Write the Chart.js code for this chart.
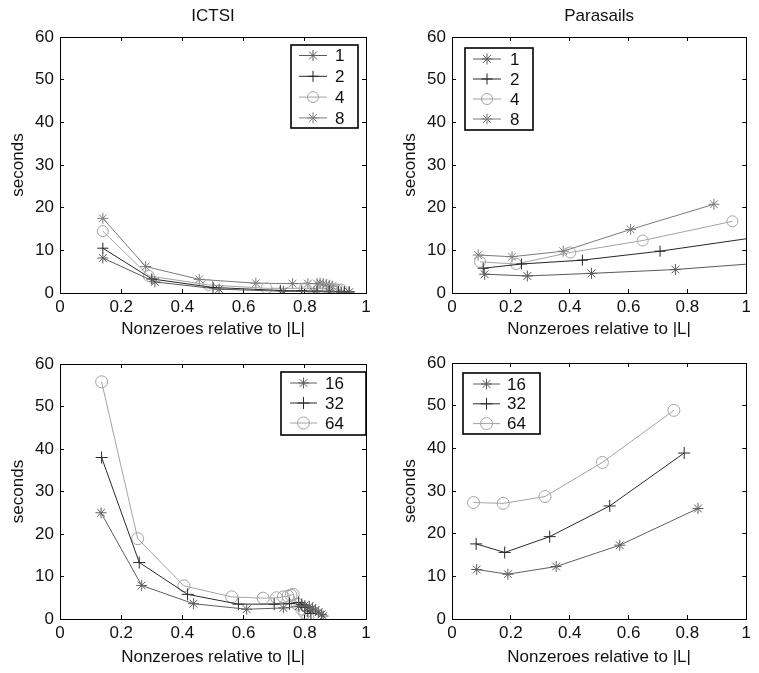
<!DOCTYPE html>
<html><head><meta charset="utf-8">
<script src="https://cdn.jsdelivr.net/npm/chart.js@4/dist/chart.umd.min.js"></script>
<style>
html,body{margin:0;padding:0;background:#fff}
body{width:759px;height:673px;overflow:hidden;position:relative}
.p{position:absolute}
</style></head><body>
<div class="p" style="left:0;top:0"><canvas id="c1" width="390" height="340"></canvas></div>
<div class="p" style="left:390px;top:0"><canvas id="c2" width="369" height="340"></canvas></div>
<div class="p" style="left:0;top:340px"><canvas id="c3" width="390" height="333"></canvas></div>
<div class="p" style="left:390px;top:340px"><canvas id="c4" width="369" height="333"></canvas></div>
<script>
// ---------------- data ----------------
const xTickValues = [0, 0.2, 0.4, 0.6, 0.8, 1];
const xTickLabels = ['0', '0.2', '0.4', '0.6', '0.8', '1'];
const yTickValues = [0, 10, 20, 30, 40, 50, 60];
const yTickLabels = ['0', '10', '20', '30', '40', '50', '60'];
const panelTitles = ['ICTSI', 'Parasails'];
const xAxisTitle = 'Nonzeroes relative to |L|';
const yAxisTitle = 'seconds';
const topSeriesNames = ['1', '2', '4', '8'];
const bottomSeriesNames = ['16', '32', '64'];

// ICTSI, 1/2/4/8
const ictsi1X = [0.14, 0.31, 0.52, 0.73, 0.83, 0.88, 0.92, 0.945];
const ictsi1Y = [8.2, 2.6, 0.9, 0.4, 0.3, 0.3, 0.2, 0.2];
const ictsi2X = [0.14, 0.30, 0.50, 0.72, 0.79, 0.84, 0.88, 0.91, 0.93, 0.945];
const ictsi2Y = [10.5, 3.3, 1.3, 0.6, 0.5, 0.45, 0.4, 0.35, 0.3, 0.3];
const ictsi4X = [0.14, 0.29, 0.485, 0.675, 0.80, 0.86, 0.875, 0.89, 0.90, 0.91, 0.92];
const ictsi4Y = [14.5, 4.0, 1.9, 1.1, 1.1, 1.0, 1.0, 0.9, 0.9, 0.8, 0.8];
const ictsi8X = [0.14, 0.28, 0.455, 0.64, 0.76, 0.81, 0.84, 0.85, 0.86, 0.87, 0.88, 0.89];
const ictsi8Y = [17.5, 6.2, 3.2, 2.3, 2.2, 2.2, 2.2, 2.3, 2.2, 2.0, 1.8, 1.6];

// Parasails, 1/2/4/8
const para1X = [0.111, 0.256, 0.474, 0.759, 1.2];
const para1Y = [4.4, 4.0, 4.6, 5.5, 7.8];
const para2X = [0.106, 0.236, 0.443, 0.707, 1.2];
const para2Y = [5.8, 6.8, 7.7, 9.8, 14.7];
const para4X = [0.095, 0.218, 0.402, 0.648, 0.953];
const para4Y = [7.3, 6.8, 9.5, 12.3, 16.8];
const para8X = [0.089, 0.204, 0.378, 0.607, 0.89];
const para8Y = [8.9, 8.5, 9.8, 14.9, 20.8];

// ICTSI, 16/32/64
const ictsi16X = [0.134, 0.267, 0.436, 0.61, 0.73, 0.78, 0.80, 0.815, 0.825, 0.835, 0.845, 0.855, 0.86];
const ictsi16Y = [25.0, 7.9, 3.6, 2.3, 2.6, 3.0, 3.2, 3.0, 2.6, 2.1, 1.6, 1.1, 0.7];
const ictsi32X = [0.136, 0.259, 0.417, 0.583, 0.70, 0.75, 0.78, 0.79, 0.80, 0.81, 0.82];
const ictsi32Y = [38.0, 13.3, 5.8, 3.5, 3.5, 3.6, 3.9, 3.4, 2.7, 1.9, 1.3];
const ictsi64X = [0.136, 0.254, 0.405, 0.561, 0.664, 0.708, 0.73, 0.745, 0.755, 0.762, 0.775, 0.79, 0.80, 0.81];
const ictsi64Y = [55.8, 18.9, 7.8, 5.2, 4.9, 5.0, 5.2, 5.4, 5.6, 5.8, 3.5, 2.3, 1.4, 0.3];

// Parasails, 16/32/64
const para16X = [0.084, 0.19, 0.354, 0.57, 0.836];
const para16Y = [11.6, 10.5, 12.3, 17.3, 25.9];
const para32X = [0.082, 0.179, 0.332, 0.536, 0.789];
const para32Y = [17.6, 15.6, 19.3, 26.5, 38.9];
const para64X = [0.073, 0.174, 0.316, 0.511, 0.754];
const para64Y = [27.3, 27.1, 28.7, 36.7, 48.9];

// ---------------- styling ----------------
const FONT = {family: "'Liberation Sans', Arial, Helvetica, sans-serif", size: 17};
const TXT = '#111';
const topStyles = [
  {color: '#5a5a5a', point: 'star', r: 5.5},
  {color: '#262626', point: 'cross', r: 5.5},
  {color: '#a3a3a3', point: 'circle', r: 5.5},
  {color: '#7a7a7a', point: 'star', r: 5.5}
];
const bottomStyles = [
  {color: '#5e5e5e', point: 'star', r: 5.5},
  {color: '#2a2a2a', point: 'cross', r: 6},
  {color: '#a3a3a3', point: 'circle', r: 6}
];

const boxLegend = {
  id: 'boxLegend',
  afterDatasetsDraw(chart, args, L) {
    if (!L || !L.w) return;
    const {ctx, chartArea} = chart;
    const bx = Math.round(chartArea.left + L.dx), by = Math.round(chartArea.top + L.dy);
    ctx.save();
    ctx.fillStyle = '#fff';
    ctx.fillRect(bx, by, L.w, L.h);
    ctx.strokeStyle = '#000';
    ctx.lineWidth = 1.6;
    ctx.strokeRect(bx, by, L.w, L.h);
    chart.data.datasets.forEach((ds, i) => {
      const y = by + L.first + i * L.step;
      ctx.strokeStyle = ds.borderColor;
      ctx.lineWidth = 1;
      ctx.beginPath();
      ctx.moveTo(bx + L.x0, y);
      ctx.lineTo(bx + L.x1, y);
      ctx.stroke();
      ctx.fillStyle = 'rgba(0,0,0,0)';
      Chart.helpers.drawPoint(ctx, {pointStyle: ds.pointStyle, radius: ds.pointRadius, borderWidth: 1, rotation: 0},
        bx + (L.x0 + L.x1) / 2, y);
      ctx.fillStyle = TXT;
      ctx.font = `${FONT.size}px ${FONT.family}`;
      ctx.textBaseline = 'middle';
      ctx.textAlign = 'left';
      ctx.fillText(ds.label, bx + L.tx, y + 1);
    });
    ctx.restore();
  }
};

function buildDatasets(names, xs, ys, styles) {
  return names.map((n, i) => ({
    label: n,
    data: xs[i].map((x, j) => ({x: x, y: ys[i][j]})),
    borderColor: styles[i].color,
    backgroundColor: 'rgba(0,0,0,0)',
    borderWidth: 1,
    pointStyle: styles[i].point,
    pointRadius: styles[i].r,
    pointBorderColor: styles[i].color,
    pointBackgroundColor: 'rgba(0,0,0,0)',
    pointBorderWidth: 1,
    tension: 0,
    fill: false
  }));
}

function setTicks(values) {
  return s => { s.ticks = values.map(v => ({value: v})); };
}

function makePanel(id, W, H, area, title, datasets, legend, yTitlePad, xTitlePad) {
  const grid = {drawOnChartArea: false, tickLength: -4, color: '#000', lineWidth: 1};
  const border = {color: '#000', width: 1};
  return new Chart(document.getElementById(id), {
    type: 'line',
    data: {datasets: datasets},
    options: {
      responsive: false, animation: false, devicePixelRatio: 1,
      layout: {padding: 0},
      events: [],
      plugins: {legend: {display: false}, tooltip: {enabled: false}, boxLegend: legend},
      scales: {
        x: {
          type: 'linear', position: 'bottom', min: 0, max: 1,
          afterBuildTicks: setTicks(xTickValues),
          ticks: {callback: (v, i) => xTickLabels[i], font: FONT, color: TXT, padding: 8, maxRotation: 0, autoSkip: false},
          grid: grid, border: border,
          title: {display: true, text: xAxisTitle, font: FONT, color: TXT, padding: {top: 0, bottom: xTitlePad}},
          afterFit: s => { s.height = H - area.bottom; }
        },
        x2: {
          type: 'linear', position: 'top', min: 0, max: 1,
          afterBuildTicks: setTicks(xTickValues),
          ticks: {display: false},
          grid: grid, border: border,
          title: {display: !!title, text: title || '', font: FONT, color: TXT, padding: {top: 6, bottom: 0}},
          afterFit: s => { s.height = area.top; }
        },
        y: {
          type: 'linear', position: 'left', min: 0, max: 60,
          afterBuildTicks: setTicks(yTickValues),
          ticks: {callback: (v, i) => yTickLabels[i], font: FONT, color: TXT, padding: 10, autoSkip: false},
          grid: grid, border: border,
          title: {display: true, text: yAxisTitle, font: FONT, color: TXT, padding: {top: yTitlePad, bottom: 0}},
          afterFit: s => { s.width = area.left; }
        },
        y2: {
          type: 'linear', position: 'right', min: 0, max: 60,
          afterBuildTicks: setTicks(yTickValues),
          ticks: {display: false},
          grid: grid, border: border,
          afterFit: s => { s.width = W - area.right; }
        }
      }
    },
    plugins: [boxLegend]
  });
}

makePanel('c1', 390, 340, {left: 60, right: 366, top: 37, bottom: 293}, panelTitles[0],
  buildDatasets(topSeriesNames, [ictsi1X, ictsi2X, ictsi4X, ictsi8X], [ictsi1Y, ictsi2Y, ictsi4Y, ictsi8Y], topStyles),
  {dx: 231, dy: 8, w: 67, h: 83, first: 10.5, step: 20.8, x0: 8, x1: 36, tx: 44}, 8, 0);

makePanel('c2', 369, 340, {left: 62, right: 367, top: 37, bottom: 293}, panelTitles[1],
  buildDatasets(topSeriesNames, [para1X, para2X, para4X, para8X], [para1Y, para2Y, para4Y, para8Y], topStyles),
  {dx: 13, dy: 11, w: 68, h: 82, first: 11, step: 20, x0: 8, x1: 36, tx: 45}, 10, 0);

makePanel('c3', 390, 333, {left: 60, right: 366, top: 24, bottom: 279}, null,
  buildDatasets(bottomSeriesNames, [ictsi16X, ictsi32X, ictsi64X], [ictsi16Y, ictsi32Y, ictsi64Y], bottomStyles),
  {dx: 221, dy: 8, w: 85, h: 63, first: 11, step: 20, x0: 9, x1: 36, tx: 44}, 8, 5);

makePanel('c4', 369, 333, {left: 62, right: 367, top: 23, bottom: 279}, null,
  buildDatasets(bottomSeriesNames, [para16X, para32X, para64X], [para16Y, para32Y, para64Y], bottomStyles),
  {dx: 11, dy: 10, w: 77, h: 61, first: 11, step: 19.8, x0: 10, x1: 37, tx: 44}, 10, 5);
</script>
</body></html>
